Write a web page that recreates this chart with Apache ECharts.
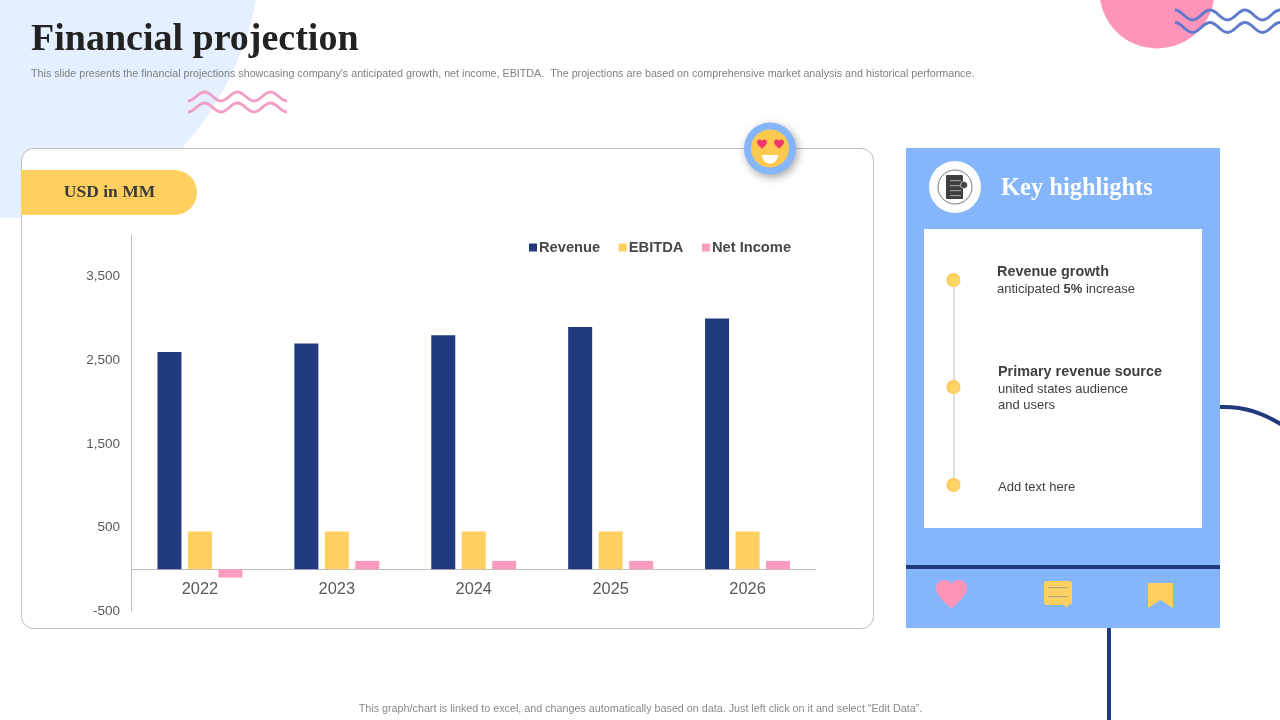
<!DOCTYPE html>
<html>
<head>
<meta charset="utf-8">
<title>Financial projection</title>
<script src="https://cdn.jsdelivr.net/npm/echarts@6/dist/echarts.min.js"></script>
<style>
html,body{margin:0;padding:0;background:#fff;}
#main{width:1280px;height:720px;}
</style>
</head>
<body>
<div id="main"></div>
<script>
// chart values
var years = ['2022', '2023', '2024', '2025', '2026'];
var revenue = [2600, 2700, 2800, 2900, 3000];
var ebitda = [450, 450, 450, 450, 450];
var netIncome = [-100, 100, 100, 100, 100];
var yTickLabels = [-500, 500, 1500, 2500, 3500];

var NAVY = '#213A7D', YELLOW = '#FFD05F', PINK = '#F99CBF', SKY = '#85B6FC';
var SANS = '"Liberation Sans", Arial, sans-serif', SERIF = '"Liberation Serif", serif';

// graphic has no plain path type, so each svg path gets a registered shape
var pathCount = 0;
function path(d, style, z) {
    var name = 'decorPath' + (pathCount++);
    echarts.graphic.registerShape(name, echarts.graphic.extendPath(d, {}));
    return {type: name, z: z, style: style};
}
// half wave segments, up and down in turn
function wave(x, y, half, amp, n, up) {
    var d = 'M' + x + ' ' + y;
    var dir = up ? -1 : 1;
    for (var i = 0; i < n; i++) {
        d += ' C' + (x + half * 0.4) + ' ' + y + ' ' + (x + half * 0.6) + ' ' + (y + dir * amp) + ' ' + (x + half) + ' ' + (y + dir * amp);
        x += half;
        y += dir * amp;
        dir = -dir;
    }
    return d;
}
function heart(cx, cy, w) {
    var r = w / 2;
    return 'M' + cx + ' ' + (cy + r * 0.95) +
        ' C' + (cx - r * 0.6) + ' ' + (cy + r * 0.4) + ' ' + (cx - r) + ' ' + cy + ' ' + (cx - r) + ' ' + (cy - r * 0.35) +
        ' C' + (cx - r) + ' ' + (cy - r * 1.0) + ' ' + (cx - r * 0.2) + ' ' + (cy - r * 1.05) + ' ' + cx + ' ' + (cy - r * 0.62) +
        ' C' + (cx + r * 0.2) + ' ' + (cy - r * 1.05) + ' ' + (cx + r) + ' ' + (cy - r * 1.0) + ' ' + (cx + r) + ' ' + (cy - r * 0.35) +
        ' C' + (cx + r) + ' ' + cy + ' ' + (cx + r * 0.6) + ' ' + (cy + r * 0.4) + ' ' + cx + ' ' + (cy + r * 0.95) + ' Z';
}
function line(d, color, width) {
    return path(d, {fill: null, stroke: color, lineWidth: width, lineCap: 'butt'}, -1);
}
function txt(x, y, text, font, color, extra) {
    var s = {x: x, y: y, text: text, font: font, fill: color, textVerticalAlign: 'middle', textAlign: 'left'};
    for (var k in extra) s[k] = extra[k];
    return {type: 'text', z: 5, style: s};
}
function dot(y) {
    return [
        {type: 'circle', z: 4, shape: {cx: 953.5, cy: y, r: 7}, style: {fill: '#FFC94F'}},
        {type: 'circle', z: 4, shape: {cx: 954.5, cy: y + 0.5, r: 5.5}, style: {fill: '#FFD468'}}
    ];
}

var decor = [
    // page background shapes
    path('M0 0 L256 0 C247 48 222 104 183 147 L120 218 L0 218 Z', {fill: '#E4EFFF'}, -3),
    {type: 'circle', z: -3, shape: {cx: 1157, cy: -9, r: 57.5}, style: {fill: '#FF94BB'}},
    line(wave(188, 101, 16.5, 9, 6, true), '#F29FC5', 3),
    line(wave(188, 112, 16.5, 9, 6, true), '#F29FC5', 3),
    line(wave(1175, 10, 17.5, 10, 7, false), '#5F7BCB', 3),
    line(wave(1175, 22.5, 17.5, 10, 7, false), '#5F7BCB', 3),
    line('M1220 407 C1242 406 1262 412 1282 425', NAVY, 4),
    {type: 'rect', z: -1, shape: {x: 1107, y: 626, width: 4, height: 94}, style: {fill: NAVY}},

    // chart card
    {type: 'rect', z: -2, shape: {x: 21.5, y: 148.5, width: 852, height: 480, r: 12}, style: {fill: '#fff', stroke: '#BFBFBF', lineWidth: 1}},
    path('M21 170 L174.5 170 A22.5 22.5 0 0 1 174.5 215 L21 215 Z', {fill: YELLOW}, -1),

    // emoji badge
    {type: 'circle', z: 3, shape: {cx: 770, cy: 148.5, r: 26}, style: {fill: SKY, shadowBlur: 8, shadowColor: 'rgba(0,0,0,0.35)', shadowOffsetX: 2, shadowOffsetY: 3}},
    {type: 'circle', z: 3, shape: {cx: 770, cy: 148.5, r: 19}, style: {fill: '#FFC84F'}},
    path(heart(762, 144, 10), {fill: '#F0386B'}, 3),
    path(heart(779, 144, 10), {fill: '#F0386B'}, 3),
    path('M761.5 155 L778.5 155 C777 161 774 163.5 770 163.5 C766 163.5 763 161 761.5 155 Z', {fill: '#fff'}, 3),

    // highlights panel
    {type: 'rect', z: -1, shape: {x: 906, y: 148, width: 314, height: 480, r: 1}, style: {fill: SKY}},
    {type: 'rect', z: 1, shape: {x: 924, y: 229, width: 278, height: 299}, style: {fill: '#fff'}},
    {type: 'rect', z: 1, shape: {x: 906, y: 565, width: 314, height: 4}, style: {fill: NAVY}},
    {type: 'circle', z: 1, shape: {cx: 955, cy: 187, r: 26}, style: {fill: '#fff'}},
    {type: 'circle', z: 2, shape: {cx: 955, cy: 187, r: 17}, style: {fill: null, stroke: '#404040', lineWidth: 0.7}},
    {type: 'rect', z: 2, shape: {x: 946, y: 175, width: 17, height: 24, r: 1}, style: {fill: '#404040'}},
    {type: 'rect', z: 2, shape: {x: 950, y: 180, width: 11, height: 1.2}, style: {fill: '#999'}},
    {type: 'rect', z: 2, shape: {x: 950, y: 185, width: 11, height: 1.2}, style: {fill: '#999'}},
    {type: 'rect', z: 2, shape: {x: 950, y: 190, width: 11, height: 1.2}, style: {fill: '#999'}},
    {type: 'rect', z: 2, shape: {x: 950, y: 195, width: 11, height: 1.2}, style: {fill: '#999'}},
    {type: 'circle', z: 2, shape: {cx: 964, cy: 185, r: 3.5}, style: {fill: '#404040', stroke: '#fff', lineWidth: 0.6}},
    {type: 'rect', z: 2, shape: {x: 953.5, y: 280, width: 1, height: 205}, style: {fill: '#BFBFBF'}},

    // footer icons
    path(heart(951.5, 594, 31), {fill: '#FF94BB'}, 2),
    path('M1047 581 L1069 581 Q1072 581 1072 584 L1072 602 Q1072 605 1069 605 L1068 605 L1067 608 L1064 605 L1047 605 Q1044 605 1044 602 L1044 584 Q1044 581 1047 581 Z', {fill: YELLOW}, 2),
    {type: 'rect', z: 2, shape: {x: 1048, y: 587, width: 20, height: 1.2}, style: {fill: '#B6A77F'}},
    {type: 'rect', z: 2, shape: {x: 1048, y: 596, width: 20, height: 1.2}, style: {fill: '#B6A77F'}},
    path('M1148 583 L1173 583 L1173 608 L1160.5 600 L1148 608 Z', {fill: YELLOW}, 2),

    // text
    txt(31, 40, 'Financial projection', 'bold 38px ' + SERIF, '#222222'),
    txt(31, 74, 'This slide presents the financial projections showcasing company\'s anticipated growth, net income, EBITDA.  The projections are based on comprehensive market analysis and historical performance.', '10.72px ' + SANS, '#7F7F7F'),
    txt(109.5, 192, 'USD in MM', 'bold 17.5px ' + SERIF, '#3B3B3B', {textAlign: 'center'}),
    txt(1001, 189, 'Key highlights', 'bold 24.5px ' + SERIF, '#FFFFFF'),
    txt(997, 272.5, 'Revenue growth', 'bold 14.4px ' + SANS, '#404040'),
    txt(997, 289, 'anticipated {b|5%} increase', '13px ' + SANS, '#404040', {rich: {b: {font: 'bold 13px ' + SANS, fill: '#404040'}}}),
    txt(998, 372.5, 'Primary revenue source', 'bold 14.4px ' + SANS, '#404040'),
    txt(998, 389, 'united states audience', '13px ' + SANS, '#404040'),
    txt(998, 405, 'and users', '13px ' + SANS, '#404040'),
    txt(998, 487, 'Add text here', '13px ' + SANS, '#404040'),
    txt(640.5, 709.5, 'This graph/chart is linked to excel, and changes automatically based on data. Just left click on it and select \u201cEdit Data\u201d.', '10.75px ' + SANS, '#8A8A8A', {textAlign: 'center'})
].concat(dot(280), dot(387), dot(485));

var myChart = echarts.init(document.getElementById('main'), null, {renderer: 'canvas'});
myChart.setOption({
    animation: false,
    backgroundColor: '#fff',
    textStyle: {fontFamily: SANS},
    graphic: {elements: decor},
    legend: {
        left: 524,
        top: 235,
        icon: 'rect',
        itemWidth: 8,
        itemHeight: 8,
        itemGap: 18.5,
        textStyle: {fontSize: 14.7, fontWeight: 'bold', color: '#474747', padding: [0, 0, 0, -3]},
        data: ['Revenue', 'EBITDA', 'Net Income']
    },
    grid: {left: 131.5, right: 464, top: 235, bottom: 109, containLabel: false},
    xAxis: {
        type: 'category',
        data: years,
        axisLine: {onZero: true, lineStyle: {color: '#BFBFBF', width: 1}},
        axisTick: {show: false},
        // labels sit under the zero line, not at the grid bottom
        axisLabel: {fontSize: 16.4, color: '#595959', margin: -30}
    },
    yAxis: {
        type: 'value',
        min: -500,
        max: 4000,
        interval: 500,
        axisLine: {show: true, lineStyle: {color: '#BFBFBF', width: 1}},
        axisTick: {show: false},
        splitLine: {show: false},
        axisLabel: {
            fontSize: 13.5,
            color: '#595959',
            margin: 11.5,
            showMaxLabel: false,
            formatter: function (v) {
                return yTickLabels.indexOf(v) >= 0 ? v.toLocaleString('en-US') : '';
            }
        }
    },
    series: [
        {name: 'Revenue', type: 'bar', data: revenue, barWidth: 24, barGap: '27%', itemStyle: {color: NAVY}},
        {name: 'EBITDA', type: 'bar', data: ebitda, barWidth: 24, itemStyle: {color: YELLOW}},
        {name: 'Net Income', type: 'bar', data: netIncome, barWidth: 24, itemStyle: {color: PINK}}
    ]
});
window.addEventListener('resize', function () {
    myChart.resize();
});
</script>
</body>
</html>
